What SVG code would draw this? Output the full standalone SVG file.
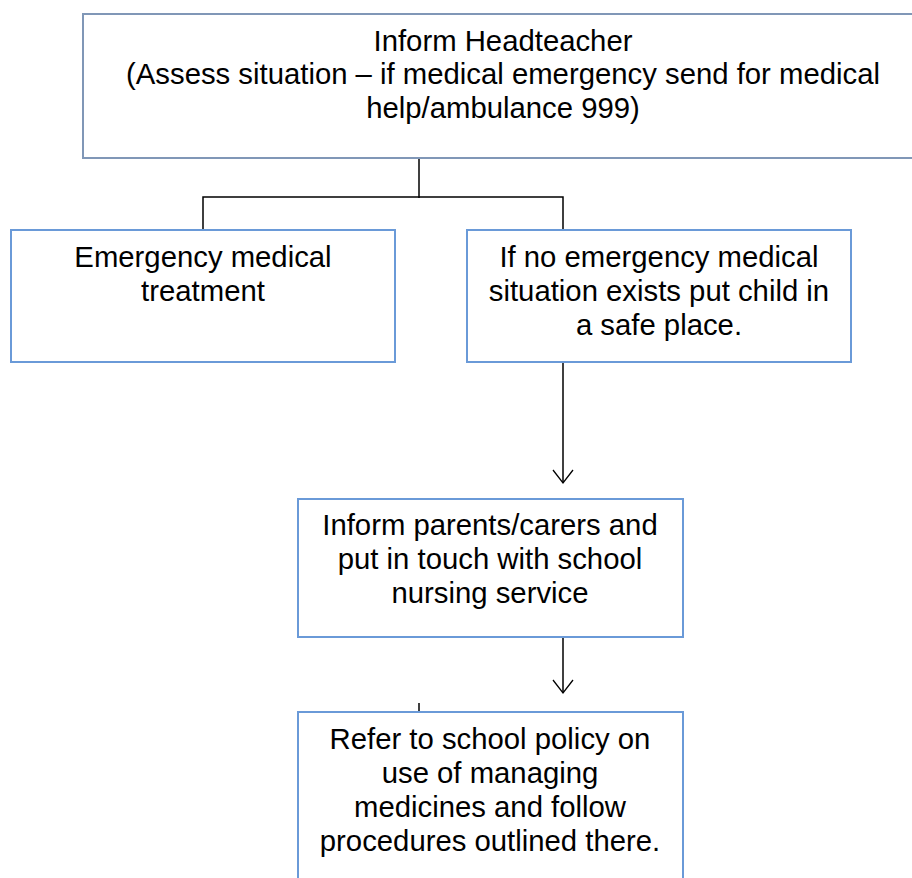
<svg xmlns="http://www.w3.org/2000/svg" width="912" height="878" viewBox="0 0 912 878">
  <defs>
    <marker id="open" markerWidth="18" markerHeight="24" refX="16" refY="12" orient="auto" markerUnits="userSpaceOnUse" viewBox="0 0 18 24">
      <path d="M3,2 L16,12 L3,22" fill="none" stroke="#000" stroke-width="1.3"/>
    </marker>
    <style>
      .top { fill: #fff; stroke: #8097b7; stroke-width: 2; }
      .box { fill: #fff; stroke: #6a9ad8; stroke-width: 2; }
      .t { font-family: "Liberation Sans", Arial, sans-serif; font-size: 29.3px; fill: #000; text-anchor: middle; }
      .c { fill: none; stroke: #000; stroke-width: 1.5; }
    </style>
  </defs>
  <rect width="912" height="878" fill="#fff"/>

  <g id="connectors">
    <path class="c" d="M419,158 V198"/>
    <path class="c" d="M203,229 V197 H563 V229"/>
    <path class="c" d="M563,362 V483" marker-end="url(#open)"/>
    <path class="c" d="M563,637 V693" marker-end="url(#open)"/>
    <path class="c" d="M419,703 V712"/>
  </g>

  <g id="n1">
    <rect class="top" x="83" y="14" width="850" height="144"/>
    <text class="t" x="503" y="51">Inform Headteacher</text>
    <text class="t" x="503" y="84">(Assess situation – if medical emergency send for medical</text>
    <text class="t" x="503" y="118">help/ambulance 999)</text>
  </g>

  <g id="n2">
    <rect class="box" x="11" y="230" width="384" height="132"/>
    <text class="t" x="203" y="267">Emergency medical</text>
    <text class="t" x="203" y="301">treatment</text>
  </g>

  <g id="n3">
    <rect class="box" x="467" y="230" width="384" height="132"/>
    <text class="t" x="659" y="267">If no emergency medical</text>
    <text class="t" x="659" y="301">situation exists put child in</text>
    <text class="t" x="659" y="335">a safe place.</text>
  </g>

  <g id="n4">
    <rect class="box" x="298" y="499" width="385" height="138"/>
    <text class="t" x="490" y="535">Inform parents/carers and</text>
    <text class="t" x="490" y="569">put in touch with school</text>
    <text class="t" x="490" y="603">nursing service</text>
  </g>

  <g id="n5">
    <rect class="box" x="298" y="712" width="385" height="200"/>
    <text class="t" x="490" y="749">Refer to school policy on</text>
    <text class="t" x="490" y="783">use of managing</text>
    <text class="t" x="490" y="817">medicines and follow</text>
    <text class="t" x="490" y="851">procedures outlined there.</text>
  </g>
</svg>
